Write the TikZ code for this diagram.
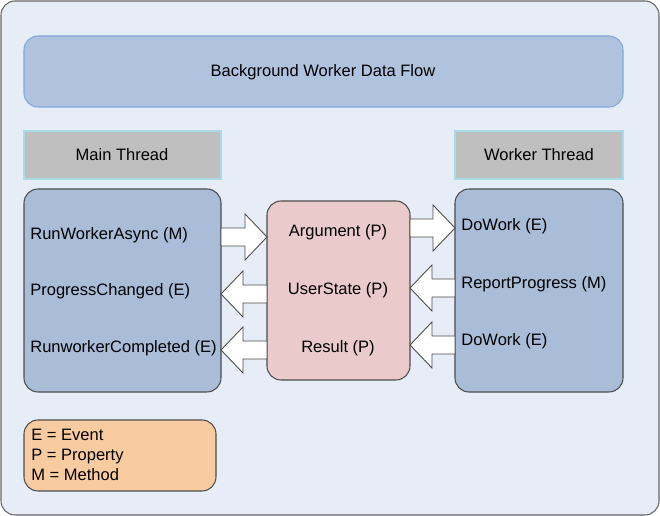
\documentclass[tikz,border=0pt]{standalone}
\usepackage{fontspec}
\setmainfont{Liberation Sans}
\definecolor{bgc}{HTML}{E6EDF6}
\definecolor{titlec}{HTML}{B0C3DE}
\definecolor{titleb}{HTML}{7FA7DF}
\definecolor{headc}{HTML}{BFBFBF}
\definecolor{headb}{HTML}{A8DCE8}
\definecolor{blockc}{HTML}{A9BCD8}
\definecolor{midc}{HTML}{EACACA}
\definecolor{legc}{HTML}{F9CBA0}
\tikzset{
  box/.style={draw=#1, rounded corners=8pt, line width=0.6pt},
  txt/.style={font=\fontsize{9.4}{11.5}\selectfont, inner sep=0pt},
  barrow/.style={draw=black!70, fill=white, line width=0.5pt}
}
% block arrow: start x, end x, centre y
\newcommand{\blockarrow}[3]{%
  \pgfmathsetmacro{\hx}{#2-(#2-#1)/abs(#2-#1)*22}%
  \draw[barrow] (#1,#3-9) -- (\hx,#3-9) -- (\hx,#3-23) -- (#2,#3)
    -- (\hx,#3+23) -- (\hx,#3+9) -- (#1,#3+9) -- cycle;}
\begin{document}
\begin{tikzpicture}[x=0.02cm,y=-0.02cm]
\useasboundingbox (0,0) rectangle (660,516);
\draw[box=black!60, fill=bgc] (1,1) rectangle (659,515);
\draw[box=titleb, fill=titlec] (24,36) rectangle (623,107);
\node[txt] (title) at (323,72) {Background Worker Data Flow};
\draw[draw=headb, fill=headc, line width=0.6pt] (24,131) rectangle (221,179);
\node[txt] (mt) at (122,155) {Main Thread};
\draw[draw=headb, fill=headc, line width=0.6pt] (455,131) rectangle (623,179);
\node[txt] (wt) at (539,155) {Worker Thread};
\draw[box=black!70, fill=blockc] (24,189) rectangle (221,392);
\draw[box=black!70, fill=blockc] (455,189) rectangle (623,392);
\draw[box=black!70, fill=midc] (267,201) rectangle (410,380);
\draw[box=black!70, fill=legc] (24,420) rectangle (216,491);
\blockarrow{221}{267}{237}
\blockarrow{267}{221}{294}
\blockarrow{267}{221}{350}
\blockarrow{410}{455}{228}
\blockarrow{455}{410}{288}
\blockarrow{455}{410}{345}
\node[txt, anchor=west] (l1) at (30,235) {RunWorkerAsync (M)};
\node[txt, anchor=west] (l2) at (30,291) {ProgressChanged (E)};
\node[txt, anchor=west] (l3) at (30,348) {RunworkerCompleted (E)};
\node[txt] (m1) at (338,232) {Argument (P)};
\node[txt] (m2) at (338,290) {UserState (P)};
\node[txt] (m3) at (338,348) {Result (P)};
\node[txt, anchor=west] (r1) at (461,226) {DoWork (E)};
\node[txt, anchor=west] (r2) at (461,284) {ReportProgress (M)};
\node[txt, anchor=west] (r3) at (461,341) {DoWork (E)};
\node[txt, anchor=west, align=left] (leg) at (31,455) {E = Event\\P = Property\\M = Method};
\end{tikzpicture}
\end{document}
